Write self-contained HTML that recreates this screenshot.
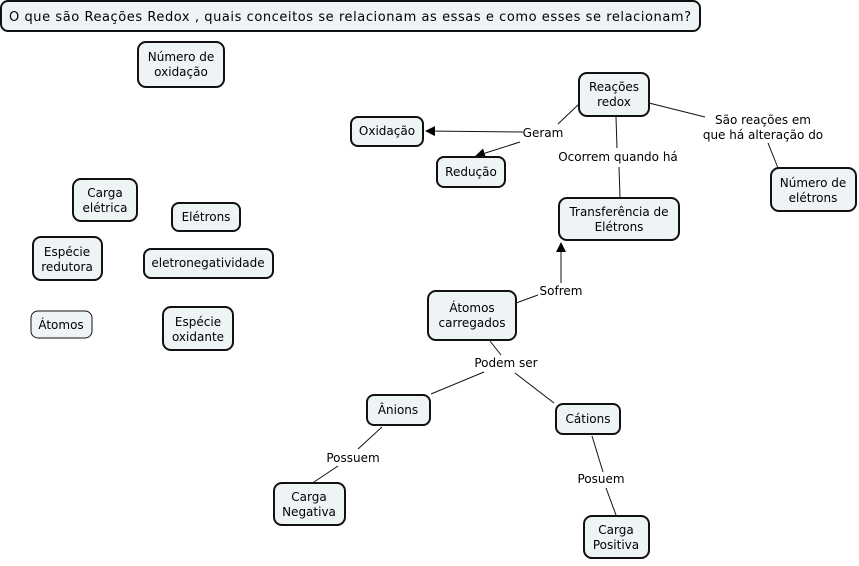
<!DOCTYPE html>
<html><head><meta charset="utf-8"><style>
body{margin:0;background:#fff}
svg text{font-family:"DejaVu Sans","Liberation Sans",sans-serif;font-size:12px;fill:#000}
.n{fill:#eef3f5;stroke:#111;stroke-width:2}
.l{stroke:#111;stroke-width:1;fill:none}
</style></head><body>
<svg width="859" height="561" viewBox="0 0 859 561" xmlns="http://www.w3.org/2000/svg">
<defs><marker id="a" viewBox="0 0 10 10" refX="9" refY="5" markerWidth="10" markerHeight="10" markerUnits="userSpaceOnUse" orient="auto"><path d="M0,0 L10,5 L0,10 z" fill="#000"/></marker></defs>
<!-- lines -->
<line class="l" x1="579" y1="104" x2="558" y2="124"/>
<line class="l" x1="523" y1="132" x2="426" y2="131" marker-end="url(#a)"/>
<line class="l" x1="520" y1="142" x2="476" y2="156" marker-end="url(#a)"/>
<line class="l" x1="616" y1="117" x2="617" y2="148"/>
<line class="l" x1="619" y1="167" x2="620" y2="197"/>
<line class="l" x1="649" y1="103" x2="705" y2="117"/>
<line class="l" x1="768" y1="143" x2="778" y2="168"/>
<line class="l" x1="516" y1="303" x2="538" y2="295"/>
<line class="l" x1="561" y1="283" x2="561" y2="243" marker-end="url(#a)"/>
<line class="l" x1="490" y1="341" x2="501" y2="355"/>
<line class="l" x1="484" y1="372" x2="431" y2="394"/>
<line class="l" x1="515" y1="373" x2="554" y2="403"/>
<line class="l" x1="382" y1="427" x2="358" y2="449"/>
<line class="l" x1="338" y1="466" x2="314" y2="482"/>
<line class="l" x1="592" y1="436" x2="603" y2="472"/>
<line class="l" x1="606" y1="488" x2="616" y2="515"/>
<!-- nodes -->
<rect class="n" x="1" y="1" width="699" height="30" rx="7"/>
<text x="9" y="21" font-size="13" textLength="682" style="font-size:13px">O que são Reações Redox , quais conceitos se relacionam as essas e como esses se relacionam?</text>
<g text-anchor="middle">
<rect class="n" x="138" y="42" width="86" height="45" rx="8"/><text x="181" y="61">Número de</text><text x="181" y="76">oxidação</text>
<rect class="n" x="579" y="73" width="70" height="43" rx="8"/><text x="614" y="91">Reações</text><text x="614" y="106">redox</text>
<rect class="n" x="351" y="117" width="72" height="29" rx="7"/><text x="387" y="135">Oxidação</text>
<rect class="n" x="437" y="157" width="68" height="30" rx="7"/><text x="471" y="176">Redução</text>
<rect class="n" x="559" y="198" width="120" height="42" rx="8"/><text x="619" y="216">Transferência de</text><text x="619" y="231">Elétrons</text>
<rect class="n" x="771" y="168" width="85" height="43" rx="8"/><text x="813" y="187">Número de</text><text x="813" y="202">elétrons</text>
<rect class="n" x="73" y="179" width="64" height="42" rx="8"/><text x="105" y="197">Carga</text><text x="105" y="212">elétrica</text>
<rect class="n" x="172" y="203" width="68" height="28" rx="7"/><text x="206" y="221">Elétrons</text>
<rect class="n" x="33" y="237" width="69" height="43" rx="8"/><text x="67" y="256">Espécie</text><text x="67" y="271">redutora</text>
<rect class="n" x="144" y="249" width="129" height="29" rx="7"/><text x="208" y="267">eletronegatividade</text>
<rect x="31" y="311" width="61" height="27" rx="7" fill="#eef3f5" stroke="#111" stroke-width="1"/><text x="61" y="329">Átomos</text>
<rect class="n" x="163" y="307" width="70" height="43" rx="8"/><text x="198" y="326">Espécie</text><text x="198" y="341">oxidante</text>
<rect class="n" x="428" y="291" width="88" height="49" rx="8"/><text x="472" y="312">Átomos</text><text x="472" y="327">carregados</text>
<rect class="n" x="367" y="395" width="63" height="30" rx="7"/><text x="398" y="414">Ânions</text>
<rect class="n" x="556" y="404" width="64" height="30" rx="7"/><text x="588" y="423">Cátions</text>
<rect class="n" x="274" y="483" width="71" height="42" rx="8"/><text x="309" y="501">Carga</text><text x="309" y="516">Negativa</text>
<rect class="n" x="584" y="516" width="65" height="42" rx="8"/><text x="616" y="534">Carga</text><text x="616" y="549">Positiva</text>
<!-- labels -->
<text x="543" y="137">Geram</text>
<text x="618" y="161">Ocorrem quando há</text>
<text x="763" y="124">São reações em</text>
<text x="763" y="139">que há alteração do</text>
<text x="561" y="295">Sofrem</text>
<text x="506" y="367">Podem ser</text>
<text x="353" y="462">Possuem</text>
<text x="601" y="483">Posuem</text>
</g>
</svg>
</body></html>
